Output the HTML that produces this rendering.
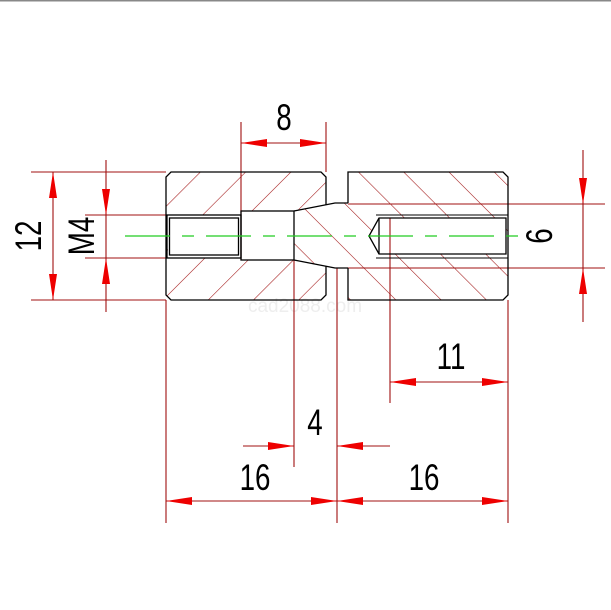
<!DOCTYPE html>
<html><head><meta charset="utf-8"><style>
html,body{margin:0;padding:0;background:#fff;width:611px;height:610px;overflow:hidden}
svg{display:block}
text{font-family:"Liberation Sans",sans-serif;font-weight:normal}
</style></head><body>
<svg width="611" height="610" viewBox="0 0 611 610" xmlns="http://www.w3.org/2000/svg">
<defs>
<pattern id="hl" width="32" height="32" patternUnits="userSpaceOnUse" patternTransform="translate(10,0) rotate(45)">
<line x1="0" y1="-5" x2="0" y2="40" stroke="#a01010" stroke-width="1.1"/></pattern>
<pattern id="hr" width="32" height="32" patternUnits="userSpaceOnUse" patternTransform="translate(5,0) rotate(-45)">
<line x1="0" y1="-5" x2="0" y2="40" stroke="#a01010" stroke-width="1.1"/></pattern>
</defs>
<rect x="0" y="0" width="611" height="1.5" fill="#888"/>
<text x="305" y="312" font-size="19" fill="#eee" text-anchor="middle">cad2088.com</text>

<path fill-rule="evenodd" fill="url(#hl)" d="M171,172 L321,172 L326,177 L326,295 L321,300 L171,300 L166,295 L166,177 Z M168,215 L241,215 L241,211 L294,211 L326,204.8 L326,266.2 L294,260 L241,260 L241,258 L168,258 Z"/>
<path fill-rule="evenodd" fill="url(#hr)" d="M294,211 L335,203 L348,203 L348,172 L503,172 L508,177 L508,295 L503,300 L348,300 L348,268 L335,268 L294,260 Z M369,236 L379,218 L506,218 L506,254 L379,254 Z"/>

<g stroke="#a01010" stroke-width="1.1" fill="none">
<line x1="31" y1="172" x2="166" y2="172"/><line x1="31" y1="300" x2="166" y2="300"/>
<line x1="53" y1="172" x2="53" y2="300"/>
<line x1="85" y1="215" x2="168" y2="215"/><line x1="85" y1="258" x2="168" y2="258"/>
<line x1="106" y1="160" x2="106" y2="312"/>
<line x1="241" y1="122" x2="241" y2="260"/><line x1="326" y1="122" x2="326" y2="172"/>
<line x1="241" y1="143" x2="326" y2="143"/>
<line x1="348" y1="204" x2="605" y2="204"/><line x1="335" y1="268" x2="605" y2="268"/>
<line x1="583" y1="150" x2="583" y2="322"/>
<line x1="390" y1="218" x2="390" y2="403"/><line x1="508" y1="300" x2="508" y2="523"/>
<line x1="390" y1="382" x2="508" y2="382"/>
<line x1="294" y1="260" x2="294" y2="467"/><line x1="337" y1="268" x2="337" y2="523"/>
<line x1="243" y1="446" x2="294" y2="446"/><line x1="337" y1="446" x2="390" y2="446"/>
<line x1="166" y1="300" x2="166" y2="523"/>
<line x1="166" y1="501" x2="508" y2="501"/>
</g>
<g fill="#ee0000">
<polygon points="53,172 49,198 57,198"/><polygon points="53,300 49,274 57,274"/>
<polygon points="106,215 102,189 110,189"/><polygon points="106,258 102,284 110,284"/>
<polygon points="241,143 267,139 267,147"/><polygon points="326,143 300,139 300,147"/>
<polygon points="583,204 579,178 587,178"/><polygon points="583,268 579,294 587,294"/>
<polygon points="390,382 416,378 416,386"/><polygon points="508,382 482,378 482,386"/>
<polygon points="294,446 268,442 268,450"/><polygon points="337,446 363,442 363,450"/>
<polygon points="166,501 192,497 192,505"/><polygon points="337,501 311,497 311,505"/>
<polygon points="337,501 363,497 363,505"/><polygon points="508,501 482,497 482,505"/>
</g>

<g stroke="#000" stroke-width="1.3" fill="none">
<path d="M326,205 L326,177 L321,172 L171,172 L166,177 L166,295 L171,300 L321,300 L326,295 L326,266"/>
<path d="M348,203 L348,172 L503,172 L508,177 L508,295 L503,300 L348,300 L348,268"/>
<rect x="167" y="215" width="74" height="43"/>
<rect x="169.5" y="218" width="69" height="37"/>
<rect x="241" y="211" width="53" height="49"/>
<path d="M294,211 L335,203 L348,203 M294,260 L335,268 L348,268"/>
<path d="M379,218 L506,218 L506,254 L379,254 L369,236 Z"/>
<line x1="379" y1="218" x2="379" y2="254"/>
<path d="M376,215 L508,215 M376,258 L508,258" stroke-width="0.9"/>
</g>

<line x1="125" y1="236" x2="525" y2="236" stroke="#22cc22" stroke-width="1.2" stroke-dasharray="45,12,12,12"/>

<g fill="#000" font-size="37">
<text x="284" y="130" text-anchor="middle" transform="translate(284,0) scale(0.75,1) translate(-284,0)">8</text>
<text x="451" y="369" text-anchor="middle" transform="translate(451,0) scale(0.75,1) translate(-451,0)">11</text>
<text x="315" y="435" text-anchor="middle" transform="translate(315,0) scale(0.75,1) translate(-315,0)">4</text>
<text x="255" y="490" text-anchor="middle" transform="translate(255,0) scale(0.75,1) translate(-255,0)">16</text>
<text x="424" y="490" text-anchor="middle" transform="translate(424,0) scale(0.75,1) translate(-424,0)">16</text>
<text transform="translate(41,236) rotate(-90) scale(0.75,1)" text-anchor="middle">12</text>
<text transform="translate(94,236) rotate(-90) scale(0.75,1)" text-anchor="middle">M4</text>
<text transform="translate(552,236) rotate(-90) scale(0.75,1)" text-anchor="middle">6</text>
</g>
</svg>
</body></html>
